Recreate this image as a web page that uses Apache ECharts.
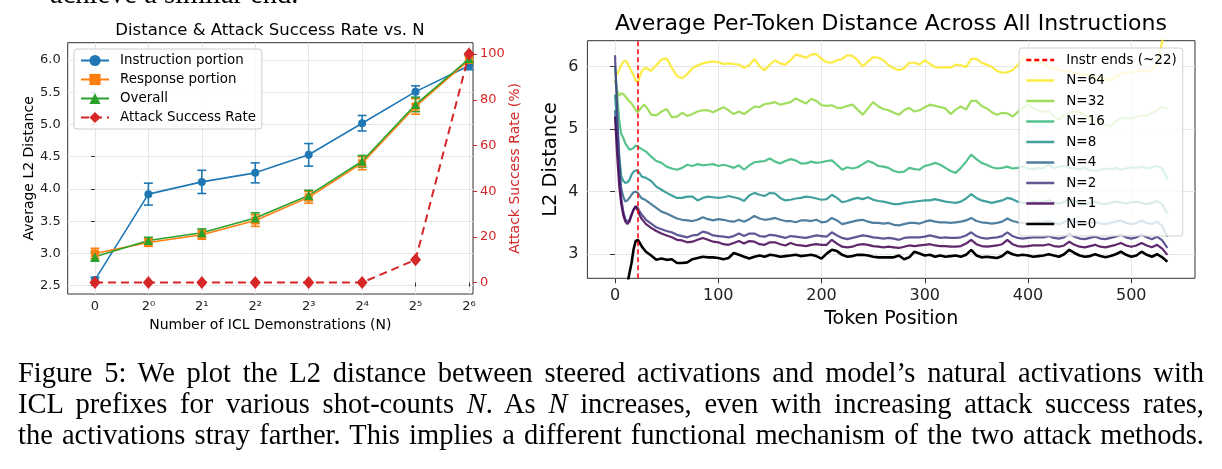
<!DOCTYPE html>
<html><head><meta charset="utf-8">
<script src="https://cdn.jsdelivr.net/npm/echarts@6/dist/echarts.min.js"></script>
<style>
html,body{margin:0;padding:0;background:#fff;}
#wrap{position:relative;width:1222px;height:469px;overflow:hidden;background:#fff;}
#chart{position:absolute;left:0;top:0;width:1222px;height:469px;}
.serif{font-family:'Liberation Serif','Times New Roman',serif;color:#000;}
#topline{position:absolute;left:50px;top:-20px;font-size:28.5px;line-height:28.5px;white-space:nowrap;}
#cap{position:absolute;left:18px;top:357px;width:1186px;font-size:28.5px;line-height:31px;}
#cap div{text-align:justify;text-align-last:justify;}
</style></head>
<body><div id="wrap"><div id="chart"></div>
<div id="topline" class="serif">achieve a similar end.</div>
<div id="cap" class="serif">
<div>Figure 5: We plot the L2 distance between steered activations and model’s natural activations with</div>
<div>ICL prefixes for various shot-counts <i>N</i>. As <i>N</i> increases, even with increasing attack success rates,</div>
<div>the activations stray farther. This implies a different functional mechanism of the two attack methods.</div>
</div></div>
<script>
// ---------- Left chart data ----------
const nTickLabels = ['0','2⁰','2¹','2²','2³','2⁴','2⁵','2⁶'];
const nPositions = [0,1,2,3,4,5,6,7];
const instrVals = [2.59,3.92,4.11,4.25,4.53,5.02,5.51,5.91];
const instrErr  = [0.04,0.17,0.18,0.155,0.175,0.12,0.09,0.06];
const respVals  = [3.00,3.17,3.29,3.51,3.87,4.40,5.28,6.00];
const respErr   = [0.08,0.06,0.07,0.09,0.09,0.10,0.12,0.06];
const overallVals = [2.95,3.20,3.32,3.55,3.90,4.43,5.31,6.02];
const overallErr  = [0.07,0.05,0.06,0.08,0.08,0.09,0.11,0.05];
const asrVals = [0,0,0,0,0,0,10,100];

// ---------- Right chart data ----------
const instrEnd = 22;
const tokens = [
 0,2,4,6,8,10,12,14,16,18,
 20,22,24,26,28,30,
 35,40,45,50,55,60,65,70,75,80,
 85,90,95,100,105,110,115,120,125,130,
 135,140,145,150,155,160,165,170,175,180,
 185,190,195,200,205,210,215,220,225,230,
 235,240,245,250,255,260,265,270,275,280,
 285,290,295,300,305,310,315,320,325,330,
 335,340,345,350,355,360,365,370,375,380,
 385,390,395,400,405,410,415,420,425,430,
 435,440,445,450,455,460,465,470,475,480,
 485,490,495,500,505,510,515,520,525,530,
 535];
const dist64 = [
 5.84,5.88,5.94,6.02,6.08,6.09,6.06,5.99,5.92,5.86,
 5.78,5.74,5.84,5.93,5.96,5.98,
 5.93,6.02,6.11,6.13,5.98,5.85,5.81,5.88,5.97,6.02,
 6.05,6.07,6.08,6.07,6.04,6.05,6.04,6.03,5.98,6.02,
 6.12,6.00,5.94,6.03,6.10,6.05,6.03,6.10,6.19,6.17,
 6.14,6.19,6.20,6.12,6.07,6.06,6.10,6.12,6.18,6.17,
 6.10,6.00,6.08,6.15,6.14,6.10,6.02,5.97,5.94,5.97,
 6.06,6.06,6.03,6.10,6.04,5.99,5.98,5.99,5.98,6.03,
 6.02,5.99,6.12,6.12,6.06,6.03,5.99,5.93,5.90,5.91,
 5.94,6.02,6.12,6.12,6.07,6.07,6.05,6.00,5.97,5.95,
 5.92,5.93,5.90,5.87,5.88,5.85,5.83,5.81,5.80,5.78,
 5.84,5.88,5.90,5.91,5.92,5.93,5.92,5.95,6.05,6.40,
 6.75];
const dist32 = [
 5.78,5.62,5.53,5.57,5.56,5.52,5.48,5.44,5.41,5.36,
 5.30,5.27,5.31,5.35,5.39,5.36,
 5.23,5.22,5.28,5.32,5.19,5.20,5.26,5.21,5.24,5.28,
 5.30,5.30,5.27,5.31,5.35,5.30,5.24,5.28,5.24,5.30,
 5.36,5.35,5.40,5.41,5.43,5.39,5.41,5.43,5.49,5.45,
 5.41,5.48,5.45,5.38,5.37,5.38,5.34,5.34,5.37,5.39,
 5.31,5.23,5.33,5.43,5.36,5.32,5.30,5.26,5.23,5.30,
 5.34,5.28,5.30,5.35,5.39,5.37,5.35,5.33,5.24,5.31,
 5.36,5.31,5.45,5.45,5.37,5.33,5.27,5.23,5.26,5.25,
 5.20,5.27,5.34,5.39,5.33,5.30,5.27,5.29,5.20,5.15,
 5.22,5.26,5.28,5.27,5.22,5.17,5.13,5.10,5.07,5.04,
 5.12,5.18,5.17,5.17,5.20,5.22,5.21,5.26,5.30,5.36,
 5.32];
const dist16 = [
 6.00,5.55,5.15,4.92,4.86,4.77,4.72,4.67,4.68,4.70,
 4.74,4.72,4.70,4.68,4.66,4.64,
 4.56,4.49,4.46,4.40,4.37,4.35,4.38,4.43,4.41,4.44,
 4.42,4.43,4.44,4.41,4.43,4.41,4.38,4.42,4.35,4.42,
 4.47,4.48,4.49,4.53,4.48,4.45,4.49,4.52,4.50,4.45,
 4.45,4.48,4.46,4.47,4.49,4.50,4.43,4.35,4.39,4.37,
 4.39,4.44,4.49,4.46,4.41,4.40,4.38,4.33,4.31,4.32,
 4.38,4.36,4.35,4.41,4.43,4.46,4.43,4.38,4.33,4.30,
 4.38,4.48,4.59,4.52,4.46,4.43,4.39,4.37,4.38,4.40,
 4.37,4.38,4.40,4.37,4.36,4.38,4.37,4.43,4.38,4.40,
 4.41,4.38,4.37,4.36,4.38,4.34,4.33,4.35,4.37,4.36,
 4.38,4.35,4.37,4.39,4.38,4.40,4.37,4.39,4.41,4.37,
 4.20];
const dist8 = [
 5.55,5.10,4.60,4.25,4.17,4.14,4.15,4.19,4.27,4.32,
 4.34,4.33,4.29,4.24,4.23,4.22,
 4.17,4.08,4.03,3.98,3.94,3.90,3.90,3.92,3.92,3.86,
 3.90,3.92,3.91,3.90,3.91,3.93,3.91,3.89,3.85,3.94,
 3.98,3.95,3.93,3.98,3.97,3.90,3.86,3.87,3.89,3.90,
 3.92,3.91,3.89,3.87,3.88,3.95,3.90,3.83,3.85,3.88,
 3.90,3.88,3.91,3.87,3.85,3.84,3.82,3.80,3.80,3.82,
 3.83,3.84,3.85,3.86,3.86,3.88,3.86,3.84,3.83,3.82,
 3.84,3.89,3.96,3.90,3.86,3.84,3.82,3.84,3.86,3.90,
 3.88,3.84,3.82,3.82,3.84,3.83,3.84,3.86,3.83,3.81,
 3.84,3.88,3.85,3.82,3.80,3.82,3.84,3.81,3.80,3.82,
 3.84,3.83,3.81,3.83,3.84,3.82,3.80,3.82,3.85,3.80,
 3.65];
const dist4 = [
 5.30,4.85,4.35,4.05,3.92,3.84,3.86,3.90,3.95,3.99,
 4.00,3.98,3.93,3.89,3.88,3.86,
 3.80,3.74,3.68,3.65,3.61,3.57,3.55,3.54,3.53,3.55,
 3.59,3.56,3.54,3.56,3.55,3.53,3.52,3.55,3.52,3.56,
 3.61,3.57,3.55,3.56,3.58,3.55,3.53,3.53,3.51,3.54,
 3.54,3.53,3.55,3.51,3.52,3.58,3.54,3.48,3.50,3.52,
 3.54,3.55,3.52,3.50,3.50,3.49,3.50,3.47,3.46,3.48,
 3.50,3.50,3.49,3.52,3.54,3.52,3.51,3.51,3.50,3.51,
 3.52,3.54,3.58,3.53,3.51,3.50,3.49,3.50,3.52,3.57,
 3.53,3.51,3.50,3.49,3.50,3.51,3.51,3.53,3.50,3.48,
 3.51,3.56,3.52,3.49,3.48,3.50,3.52,3.49,3.48,3.50,
 3.52,3.54,3.50,3.48,3.50,3.54,3.50,3.48,3.52,3.45,
 3.28];
const dist2 = [
 6.18,5.30,4.50,3.90,3.68,3.56,3.52,3.55,3.64,3.72,
 3.77,3.74,3.68,3.63,3.59,3.55,
 3.49,3.43,3.40,3.37,3.35,3.31,3.29,3.27,3.30,3.31,
 3.36,3.34,3.30,3.29,3.28,3.27,3.29,3.33,3.29,3.33,
 3.33,3.29,3.28,3.31,3.30,3.28,3.26,3.29,3.28,3.27,
 3.26,3.28,3.30,3.29,3.28,3.35,3.30,3.26,3.24,3.26,
 3.28,3.30,3.29,3.27,3.26,3.25,3.26,3.25,3.23,3.26,
 3.27,3.27,3.27,3.28,3.30,3.28,3.26,3.27,3.26,3.26,
 3.27,3.30,3.35,3.29,3.26,3.25,3.26,3.27,3.29,3.35,
 3.29,3.26,3.25,3.26,3.27,3.27,3.27,3.29,3.26,3.25,
 3.27,3.33,3.28,3.25,3.24,3.26,3.28,3.25,3.24,3.26,
 3.28,3.31,3.27,3.25,3.27,3.31,3.27,3.24,3.28,3.22,
 3.10];
const dist1 = [
 5.20,4.60,4.10,3.80,3.62,3.52,3.48,3.52,3.62,3.71,
 3.76,3.70,3.62,3.56,3.52,3.48,
 3.42,3.37,3.33,3.30,3.27,3.23,3.22,3.19,3.20,3.23,
 3.26,3.23,3.20,3.19,3.16,3.15,3.18,3.21,3.17,3.21,
 3.20,3.16,3.15,3.19,3.19,3.16,3.14,3.18,3.15,3.14,
 3.13,3.15,3.16,3.15,3.15,3.23,3.17,3.12,3.11,3.12,
 3.15,3.16,3.15,3.13,3.12,3.11,3.12,3.11,3.10,3.12,
 3.14,3.13,3.14,3.15,3.16,3.14,3.13,3.13,3.12,3.12,
 3.13,3.17,3.23,3.16,3.13,3.12,3.13,3.14,3.16,3.23,
 3.16,3.13,3.12,3.13,3.14,3.14,3.14,3.16,3.13,3.12,
 3.14,3.20,3.15,3.12,3.11,3.13,3.15,3.12,3.11,3.13,
 3.15,3.18,3.14,3.12,3.14,3.18,3.14,3.11,3.15,3.09,
 2.99];
const dist0 = [
 1.55,1.70,1.85,2.00,2.15,2.32,2.52,2.70,2.86,3.08,
 3.21,3.23,3.18,3.12,3.08,3.04,
 2.98,2.91,2.93,2.91,2.92,2.86,2.86,2.87,2.92,2.94,
 2.96,2.95,2.95,2.94,2.92,2.94,3.02,2.99,2.96,2.93,
 2.96,2.98,2.96,2.99,2.98,2.96,2.97,2.98,2.99,2.97,
 2.98,2.99,2.97,2.93,3.01,3.07,3.05,2.99,2.96,2.97,
 2.99,2.99,2.98,2.96,2.95,2.95,2.95,2.95,2.98,2.92,
 2.95,3.04,3.01,2.98,2.99,2.96,2.98,2.96,2.97,2.98,
 2.96,2.99,3.07,2.98,2.95,2.96,2.95,2.94,2.97,3.04,
 3.00,2.98,2.99,2.98,2.96,2.97,2.98,3.00,2.98,2.96,
 3.00,3.07,3.02,2.98,2.96,2.97,3.00,2.97,2.95,2.97,
 3.00,3.04,2.99,2.96,2.98,3.04,2.99,2.96,3.00,2.95,
 2.88];
const curveNames = ['N=64','N=32','N=16','N=8','N=4','N=2','N=1','N=0'];
const curveData  = [dist64,dist32,dist16,dist8,dist4,dist2,dist1,dist0];
const curveColors = ['#fde725','#90d743','#35b779','#21918c','#31688e','#443983','#440154','#000000'];

// ---------- Build chart ----------
const FONT = 'DejaVu Sans';
const TXT = '#222';
const GRIDC = '#e6e6e6';

function errBarSeries(name, vals, errs, color) {
  return {
    name: name, type: 'custom', xAxisIndex: 0, yAxisIndex: 0, z: 2, silent: true,
    data: nPositions.map((x, i) => [x, vals[i] - errs[i], vals[i] + errs[i]]),
    encode: { x: 0, y: [1, 2] },
    renderItem: function (params, api) {
      const lo = api.coord([api.value(0), api.value(1)]);
      const hi = api.coord([api.value(0), api.value(2)]);
      const hw = 4.5;
      const st = { stroke: color, lineWidth: 1.6 };
      return { type: 'group', children: [
        { type: 'line', shape: { x1: lo[0], y1: lo[1], x2: hi[0], y2: hi[1] }, style: st },
        { type: 'line', shape: { x1: lo[0] - hw, y1: lo[1], x2: lo[0] + hw, y2: lo[1] }, style: st },
        { type: 'line', shape: { x1: hi[0] - hw, y1: hi[1], x2: hi[0] + hw, y2: hi[1] }, style: st }
      ]};
    }
  };
}
function leftLine(name, vals, color, symbol, size) {
  return {
    name: name, type: 'line', xAxisIndex: 0, yAxisIndex: 0, z: 3,
    data: nPositions.map((x, i) => [x, vals[i]]),
    symbol: symbol, symbolSize: size, showSymbol: true,
    lineStyle: { width: 1.6, color: color }, itemStyle: { color: color }
  };
}

const series = [
  errBarSeries('err-instr', instrVals, instrErr, '#1f77b4'),
  leftLine('Instruction portion', instrVals, '#1f77b4', 'circle', 8),
  errBarSeries('err-resp', respVals, respErr, '#ff7f0e'),
  leftLine('Response portion', respVals, '#ff7f0e', 'rect', 8),
  errBarSeries('err-overall', overallVals, overallErr, '#2ca02c'),
  leftLine('Overall', overallVals, '#2ca02c', 'triangle', 9),
  {
    name: 'Attack Success Rate', type: 'line', xAxisIndex: 0, yAxisIndex: 1, z: 4,
    data: nPositions.map((x, i) => [x, asrVals[i]]),
    symbol: 'diamond', symbolSize: [11, 13], showSymbol: true,
    lineStyle: { width: 2, color: '#d62728', type: [8, 5] }, itemStyle: { color: '#d62728' }
  },
  {
    name: 'Instr ends (~22)', type: 'line', xAxisIndex: 1, yAxisIndex: 2, z: 5,
    data: [], symbol: 'none',
    lineStyle: { width: 1.5, color: '#ff0000', type: [5, 3] }, itemStyle: { color: '#ff0000' },
    markLine: { silent: true, symbol: ['none', 'none'], label: { show: false },
      lineStyle: { width: 1.5, color: '#ff0000', type: [5, 3] },
      data: [{ xAxis: instrEnd }] }
  }
];
curveNames.forEach((nm, k) => {
  const c = curveColors[k];
  series.push({
    name: nm, type: 'line', xAxisIndex: 1, yAxisIndex: 2, z: 3 + k * 0.01,
    data: tokens.map((t, i) => [t, curveData[k][i]]),
    symbol: 'none', showSymbol: false, clip: true,
    lineStyle: { width: nm === 'N=0' ? 2.6 : 2.2, color: c, opacity: nm === 'N=0' ? 1 : 0.85 },
    itemStyle: { color: c }
  });
});

const halfStep = v => Math.abs(v * 2 - Math.round(v * 2)) < 1e-6;
const option = {
  animation: false,
  backgroundColor: '#fff',
  textStyle: { fontFamily: FONT },
  title: [
    { text: 'Distance & Attack Success Rate vs. N', left: 270, top: 22, textAlign: 'center', textVerticalAlign: 'top', padding: 0,
      textStyle: { fontFamily: FONT, fontSize: 16.5, fontWeight: 'normal', color: '#000' } },
    { text: 'Average Per-Token Distance Across All Instructions', left: 891, top: 13, textAlign: 'center', textVerticalAlign: 'top', padding: 0,
      textStyle: { fontFamily: FONT, fontSize: 22, fontWeight: 'normal', color: '#000' } }
  ],
  legend: [
    { data: ['Instruction portion', 'Response portion', 'Overall', 'Attack Success Rate'],
      orient: 'vertical', left: 74, top: 49, padding: [5, 6, 5, 6], itemGap: 6, itemWidth: 28, itemHeight: 14,
      backgroundColor: 'rgba(255,255,255,0.8)', borderColor: '#cccccc', borderWidth: 1, borderRadius: 3,
      textStyle: { fontFamily: FONT, fontSize: 13.4, color: '#000', padding: [0, 0, 0, 6] } },
    { data: ['Instr ends (~22)'].concat(curveNames),
      orient: 'vertical', left: 1019, top: 48, padding: [5, 6, 5, 6], itemGap: 6.5, itemWidth: 28, itemHeight: 14,
      backgroundColor: 'rgba(255,255,255,0.8)', borderColor: '#d0d0d0', borderWidth: 1, borderRadius: 3,
      itemStyle: { opacity: 0 },
      lineStyle: { width: 2.5 },
      textStyle: { fontFamily: FONT, fontSize: 13.5, color: '#000', padding: [0, 0, 0, 7] } }
  ],
  grid: [
    { left: 67.7, top: 42.7, width: 405.3, height: 251.3, show: true, borderColor: '#333', borderWidth: 1, backgroundColor: 'transparent' },
    { left: 587.4, top: 40.7, width: 607.6, height: 237.6, show: true, borderColor: '#333', borderWidth: 1, backgroundColor: 'transparent' }
  ],
  xAxis: [
    { type: 'value', gridIndex: 0, min: -0.51, max: 7.075, splitNumber: 8,
      name: 'Number of ICL Demonstrations (N)', nameLocation: 'middle', nameGap: 22,
      nameTextStyle: { fontFamily: FONT, fontSize: 14, color: '#000' },
      axisLine: { show: false },
      axisTick: { show: true, length: 4, lineStyle: { color: '#333' }, customValues: nPositions },
      axisLabel: { margin: 6, fontFamily: FONT, fontSize: 13, color: TXT, customValues: nPositions,
        formatter: v => (Number.isInteger(v) && v >= 0 && v < nTickLabels.length) ? nTickLabels[v] : '' },
      splitLine: { show: true, lineStyle: { color: GRIDC, width: 1 } } },
    { type: 'value', gridIndex: 1, min: -26.75, max: 561.75, splitNumber: 6,
      name: 'Token Position', nameLocation: 'middle', nameGap: 30,
      nameTextStyle: { fontFamily: FONT, fontSize: 19, color: '#000' },
      axisLine: { show: false },
      axisTick: { show: true, length: 5, lineStyle: { color: '#333' }, customValues: [0, 100, 200, 300, 400, 500] },
      axisLabel: { margin: 10, fontFamily: FONT, fontSize: 16, color: TXT, customValues: [0, 100, 200, 300, 400, 500],
        formatter: v => (v >= 0 && v % 100 === 0) ? String(v) : '' },
      splitLine: { show: true, lineStyle: { color: GRIDC, width: 1 } } }
  ],
  yAxis: [
    { type: 'value', gridIndex: 0, position: 'left', min: 2.371, max: 6.269, splitNumber: 8,
      name: 'Average L2 Distance', nameLocation: 'middle', nameGap: 30, nameRotate: 90,
      nameTextStyle: { fontFamily: FONT, fontSize: 14, color: '#000' },
      axisLine: { show: false },
      axisTick: { show: true, length: 4, lineStyle: { color: '#333' }, customValues: [2.5, 3, 3.5, 4, 4.5, 5, 5.5, 6] },
      axisLabel: { margin: 7, fontFamily: FONT, fontSize: 13, color: TXT, customValues: [2.5, 3, 3.5, 4, 4.5, 5, 5.5, 6],
        formatter: v => halfStep(v) ? v.toFixed(1) : '' },
      splitLine: { show: true, lineStyle: { color: GRIDC, width: 1 } } },
    { type: 'value', gridIndex: 0, position: 'right', min: -5, max: 105, splitNumber: 5,
      name: 'Attack Success Rate (%)', nameLocation: 'middle', nameGap: 33, nameRotate: 90,
      nameTextStyle: { fontFamily: FONT, fontSize: 14, color: '#d62728' },
      axisLine: { show: false },
      axisTick: { show: true, length: 4, lineStyle: { color: '#d62728' }, customValues: [0, 20, 40, 60, 80, 100] },
      axisLabel: { margin: 7, fontFamily: FONT, fontSize: 13, color: '#d62728', customValues: [0, 20, 40, 60, 80, 100],
        formatter: v => (v >= 0 && v % 20 === 0) ? String(v) : '' },
      splitLine: { show: false } },
    { type: 'value', gridIndex: 1, min: 2.615, max: 6.412, splitNumber: 4,
      name: 'L2 Distance', nameLocation: 'middle', nameGap: 26, nameRotate: 90,
      nameTextStyle: { fontFamily: FONT, fontSize: 19.5, color: '#000' },
      axisLine: { show: false },
      axisTick: { show: true, length: 5, lineStyle: { color: '#333' }, customValues: [3, 4, 5, 6] },
      axisLabel: { margin: 9, fontFamily: FONT, fontSize: 16, color: TXT, customValues: [3, 4, 5, 6],
        formatter: v => Number.isInteger(v) ? String(v) : '' },
      splitLine: { show: true, lineStyle: { color: GRIDC, width: 1 } } }
  ],
  series: series
};
const chart = echarts.init(document.getElementById('chart'), null, { renderer: 'canvas' });
chart.setOption(option);
</script>
</body></html>
